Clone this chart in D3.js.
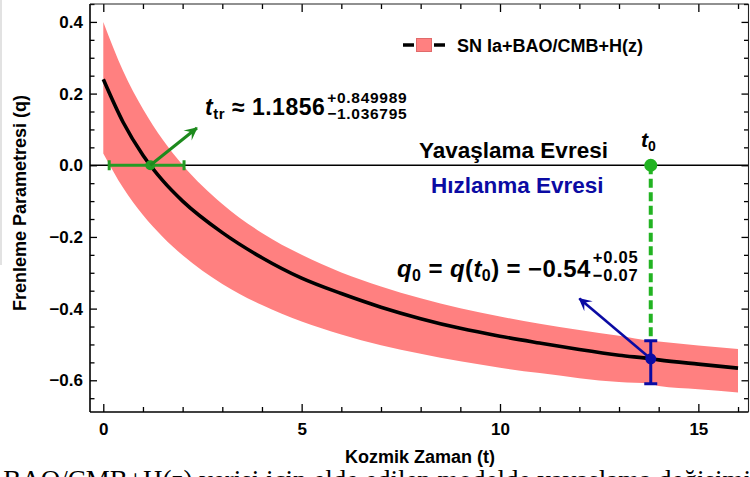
<!DOCTYPE html>
<html>
<head>
<meta charset="utf-8">
<script src="https://cdn.jsdelivr.net/npm/d3@7"></script>
<style>
  html, body { margin: 0; padding: 0; background: #fff; overflow: hidden; }
  svg { display: block; }
  text { font-family: "Liberation Sans", Arial, sans-serif; font-weight: bold; fill: #000; }
</style>
</head>
<body>
<svg id="chart" width="750" height="477"></svg>
<script>
// Cosmic time samples (Gyr) and the deceleration parameter q(t)
const times  = [0, 0.5, 1, 1.5, 2, 3, 4, 5, 6, 7, 8, 9, 10, 11, 12, 13, 13.8, 14, 15, 16];
const qBest  = [0.24, 0.12, 0.028, -0.043, -0.10, -0.188, -0.258, -0.315, -0.358, -0.396, -0.428, -0.455, -0.477, -0.496, -0.514, -0.53, -0.54, -0.543, -0.555, -0.566];
const qUpper = [0.40, 0.263, 0.157, 0.071, 0.001, -0.108, -0.189, -0.25, -0.299, -0.338, -0.371, -0.399, -0.422, -0.442, -0.46, -0.476, -0.49, -0.492, -0.503, -0.513];
const qLower = [0.033, -0.063, -0.139, -0.20, -0.251, -0.331, -0.39, -0.436, -0.472, -0.502, -0.526, -0.547, -0.565, -0.58, -0.594, -0.605, -0.61, -0.616, -0.625, -0.634];

// Transition time (q = 0) and present-day value
const tTransition = 1.1856, tTrPlus = 0.849989, tTrMinus = 1.036795;
const tNow = 13.8, qNow = -0.54, qNowPlus = 0.05, qNowMinus = 0.07;

// Where the two annotation arrows point (data units)
const trArrowTip  = [2.36, 0.104];
const nowArrowTip = [12.0, -0.372];

// Axis ticks
const xMajorTicks = [0, 5, 10, 15];
const xMinorTicks = [1, 2, 3, 4, 6, 7, 8, 9, 11, 12, 13, 14, 16];
const yMajorTicks = [-0.6, -0.4, -0.2, 0.0, 0.2, 0.4];
const yMinorTicks = [-0.65, -0.55, -0.5, -0.45, -0.35, -0.3, -0.25, -0.15, -0.1, -0.05, 0.05, 0.1, 0.15, 0.25, 0.3, 0.35, 0.45];

const legendLabel = "SN Ia+BAO/CMB+H(z)";

const svg = d3.select("#chart");
const plot = { left: 90, right: 748.5, top: 4, bottom: 412 };

const x = d3.scaleLinear().domain([-0.335, 16.264]).range([plot.left, plot.right]);
const y = d3.scaleLinear().domain([-0.6885, 0.45]).range([plot.bottom, plot.top]);

const GREEN = "#249b24", GREEN_DARK = "#1d8a1d", GREEN_DASH = "#22b322", BLUE = "#0b0ba3", BAND = "#ff8080";

const defs = svg.append("defs");
defs.append("clipPath").attr("id", "plotClip").append("rect")
  .attr("x", plot.left).attr("y", plot.top)
  .attr("width", plot.right - plot.left).attr("height", plot.bottom - plot.top);

function arrowMarker(id, color) {
  defs.append("marker")
    .attr("id", id).attr("viewBox", "-14 -8 16 16")
    .attr("refX", 0).attr("refY", 0)
    .attr("markerWidth", 16).attr("markerHeight", 16)
    .attr("markerUnits", "userSpaceOnUse").attr("orient", "auto")
    .append("path")
    .attr("d", "M1,0 L-12,-6.5 Q-8,-2 -7,0 Q-8,2 -12,6.5 Z")
    .attr("fill", color);
}
arrowMarker("arrowGreen", GREEN_DARK);
arrowMarker("arrowBlue", BLUE);

// faint edge of the page scan
svg.append("line").attr("x1", 1).attr("x2", 1).attr("y1", 0).attr("y2", 265)
  .attr("stroke", "#d9d9d9").attr("stroke-width", 1.5);

const rows = times.map((t, i) => ({ t, q: qBest[i], hi: qUpper[i], lo: qLower[i] }));
const body = svg.append("g").attr("clip-path", "url(#plotClip)");

// confidence band
body.append("path").datum(rows)
  .attr("d", d3.area().x(d => x(d.t)).y0(d => y(d.lo)).y1(d => y(d.hi)).curve(d3.curveMonotoneX))
  .attr("fill", BAND);

// q = 0 separator between deceleration and acceleration
body.append("line")
  .attr("x1", plot.left).attr("x2", plot.right).attr("y1", y(0)).attr("y2", y(0))
  .attr("stroke", "#000").attr("stroke-width", 1.3);

// best-fit curve
body.append("path").datum(rows)
  .attr("d", d3.line().x(d => x(d.t)).y(d => y(d.q)).curve(d3.curveMonotoneX))
  .attr("fill", "none").attr("stroke", "#000").attr("stroke-width", 3.6);

// transition time with its interval
const trLo = tTransition - tTrMinus, trHi = tTransition + tTrPlus;
body.append("line").attr("x1", x(trLo)).attr("x2", x(trHi)).attr("y1", y(0)).attr("y2", y(0))
  .attr("stroke", GREEN).attr("stroke-width", 3);
[trLo, trHi].forEach(v => body.append("line")
  .attr("x1", x(v)).attr("x2", x(v)).attr("y1", y(0) - 5).attr("y2", y(0) + 5)
  .attr("stroke", GREEN).attr("stroke-width", 3));
body.append("circle").attr("cx", x(tTransition)).attr("cy", y(0)).attr("r", 5).attr("fill", GREEN);
body.append("line")
  .attr("x1", x(tTransition)).attr("y1", y(0))
  .attr("x2", x(trArrowTip[0])).attr("y2", y(trArrowTip[1]))
  .attr("stroke", GREEN_DARK).attr("stroke-width", 3).attr("marker-end", "url(#arrowGreen)");

// present time marker
body.append("line")
  .attr("x1", x(tNow)).attr("x2", x(tNow)).attr("y1", y(0)).attr("y2", y(qNow + qNowPlus))
  .attr("stroke", GREEN_DASH).attr("stroke-width", 4).attr("stroke-dasharray", "9,4.5");
body.append("circle").attr("cx", x(tNow)).attr("cy", y(0)).attr("r", 6.5).attr("fill", GREEN_DASH);

// present-day q with its error bar
const qHi = qNow + qNowPlus, qLo = qNow - qNowMinus;
body.append("line").attr("x1", x(tNow)).attr("x2", x(tNow)).attr("y1", y(qHi)).attr("y2", y(qLo))
  .attr("stroke", BLUE).attr("stroke-width", 3);
[qHi, qLo].forEach(v => body.append("line")
  .attr("x1", x(tNow) - 6.5).attr("x2", x(tNow) + 6.5).attr("y1", y(v)).attr("y2", y(v))
  .attr("stroke", BLUE).attr("stroke-width", 3));
body.append("circle").attr("cx", x(tNow)).attr("cy", y(qNow)).attr("r", 5.5).attr("fill", BLUE);
body.append("line")
  .attr("x1", x(tNow)).attr("y1", y(qNow))
  .attr("x2", x(nowArrowTip[0])).attr("y2", y(nowArrowTip[1]))
  .attr("stroke", BLUE).attr("stroke-width", 2.6).attr("marker-end", "url(#arrowBlue)");

// ---- frame and axes ----
const axisG = svg.append("g");
function styleAxis(g) {
  g.select(".domain").remove();
  g.selectAll(".tick line").attr("stroke", "#000").attr("stroke-width", 1.3);
  g.selectAll(".tick text").attr("font-size", 17).attr("font-family", '"Liberation Sans", Arial, sans-serif').attr("font-weight", "bold");
}
const fmtY = d3.format(".1f");

axisG.append("g").attr("transform", `translate(0,${plot.bottom})`)
  .call(d3.axisBottom(x).tickValues(xMajorTicks).tickSize(-8).tickPadding(11).tickFormat(d3.format("d"))).call(styleAxis);
axisG.append("g").attr("transform", `translate(0,${plot.bottom})`)
  .call(d3.axisBottom(x).tickValues(xMinorTicks).tickSize(-5).tickFormat("")).call(styleAxis);
axisG.append("g").attr("transform", `translate(0,${plot.top})`)
  .call(d3.axisTop(x).tickValues(xMajorTicks).tickSize(-8).tickFormat("")).call(styleAxis);
axisG.append("g").attr("transform", `translate(0,${plot.top})`)
  .call(d3.axisTop(x).tickValues(xMinorTicks).tickSize(-5).tickFormat("")).call(styleAxis);

axisG.append("g").attr("transform", `translate(${plot.left},0)`)
  .call(d3.axisLeft(y).tickValues(yMajorTicks).tickSize(-7).tickPadding(7).tickFormat(fmtY)).call(styleAxis);
axisG.append("g").attr("transform", `translate(${plot.left},0)`)
  .call(d3.axisLeft(y).tickValues(yMinorTicks).tickSize(-4.5).tickFormat("")).call(styleAxis);
axisG.append("g").attr("transform", `translate(${plot.right},0)`)
  .call(d3.axisRight(y).tickValues(yMajorTicks).tickSize(-7).tickFormat("")).call(styleAxis);
axisG.append("g").attr("transform", `translate(${plot.right},0)`)
  .call(d3.axisRight(y).tickValues(yMinorTicks).tickSize(-4.5).tickFormat("")).call(styleAxis);

axisG.append("line").attr("x1", plot.left).attr("x2", plot.right).attr("y1", plot.bottom).attr("y2", plot.bottom)
  .attr("stroke", "#000").attr("stroke-width", 1.6);
axisG.append("line").attr("x1", plot.left).attr("x2", plot.left).attr("y1", plot.top).attr("y2", plot.bottom)
  .attr("stroke", "#000").attr("stroke-width", 1.6);
axisG.append("line").attr("x1", plot.left).attr("x2", plot.right).attr("y1", plot.top).attr("y2", plot.top)
  .attr("stroke", "#222").attr("stroke-width", 1.1);
axisG.append("line").attr("x1", plot.right).attr("x2", plot.right).attr("y1", plot.top).attr("y2", plot.bottom)
  .attr("stroke", "#222").attr("stroke-width", 1.1);

// axis titles
svg.append("text").attr("x", 420).attr("y", 463).attr("text-anchor", "middle")
  .attr("font-size", 18).text("Kozmik Zaman (t)");
svg.append("text").attr("transform", "translate(26,203) rotate(-90)").attr("text-anchor", "middle")
  .attr("font-size", 18).text("Frenleme Parametresi (q)");

// ---- legend ----
const lg = svg.append("g");
lg.append("line").attr("x1", 403).attr("x2", 414).attr("y1", 45).attr("y2", 45).attr("stroke", "#000").attr("stroke-width", 3.5);
lg.append("line").attr("x1", 434).attr("x2", 445).attr("y1", 45).attr("y2", 45).attr("stroke", "#000").attr("stroke-width", 3.5);
lg.append("rect").attr("x", 416.5).attr("y", 38.5).attr("width", 15).attr("height", 13)
  .attr("fill", BAND).attr("stroke", "#e06a6a").attr("stroke-width", 1);
lg.append("text").attr("x", 457).attr("y", 52).attr("font-size", 18).text(legendLabel);

// ---- annotations ----
function scripts(mainNode, xStart, baseY, sup, sub, size, spacing, supDy, subDy) {
  const end = xStart + mainNode.getComputedTextLength() + 2;
  svg.append("text").attr("x", end).attr("y", baseY + supDy).attr("font-size", size)
    .attr("letter-spacing", spacing).text(sup);
  svg.append("text").attr("x", end).attr("y", baseY + subDy).attr("font-size", size)
    .attr("letter-spacing", spacing).text(sub);
}

// transition time label
const trText = svg.append("text").attr("x", 205).attr("y", 115).attr("font-size", 23).attr("letter-spacing", 0.5);
trText.append("tspan").attr("font-style", "italic").text("t");
trText.append("tspan").attr("font-size", 15).attr("dy", 4).text("tr");
trText.append("tspan").attr("dy", -4).text(" \u2248 " + tTransition.toFixed(4));
scripts(trText.node(), 205, 115, "+" + tTrPlus.toFixed(6), "\u2212" + tTrMinus.toFixed(6), 15.5, 0.7, -12, 4);

// phase names
svg.append("text").attr("x", 419).attr("y", 158).attr("font-size", 22.5).text("Yavaşlama Evresi");
svg.append("text").attr("x", 431).attr("y", 193).attr("font-size", 22.5)
  .style("fill", BLUE).text("Hızlanma Evresi");

// present time label
const t0Text = svg.append("text").attr("x", 641).attr("y", 147).attr("font-size", 21);
t0Text.append("tspan").attr("font-style", "italic").text("t");
t0Text.append("tspan").attr("font-size", 14).attr("dy", 4).text("0");

// present-day q label
const q0Text = svg.append("text").attr("x", 397).attr("y", 277).attr("font-size", 24).attr("letter-spacing", 0.4);
q0Text.append("tspan").attr("font-style", "italic").text("q");
q0Text.append("tspan").attr("font-size", 16).attr("dy", 4).text("0");
q0Text.append("tspan").attr("dy", -4).text(" = ");
q0Text.append("tspan").attr("font-style", "italic").text("q");
q0Text.append("tspan").text("(");
q0Text.append("tspan").attr("font-style", "italic").text("t");
q0Text.append("tspan").attr("font-size", 16).attr("dy", 4).text("0");
q0Text.append("tspan").attr("dy", -4).text(") = \u2212" + Math.abs(qNow).toFixed(2));
scripts(q0Text.node(), 397, 277, "+" + qNowPlus.toFixed(2), "\u2212" + qNowMinus.toFixed(2), 16.5, 0.8, -14.5, 4);

// running text of the page below the figure (mostly cut off)
svg.append("text").attr("x", -12).attr("y", 489)
  .style("font-family", '"Liberation Serif", "Times New Roman", serif').style("font-weight", "normal")
  .attr("font-size", 27).text("+BAO/CMB+H(z) verisi için elde edilen modelde yavaşlama değişimi");
</script>
</body>
</html>
